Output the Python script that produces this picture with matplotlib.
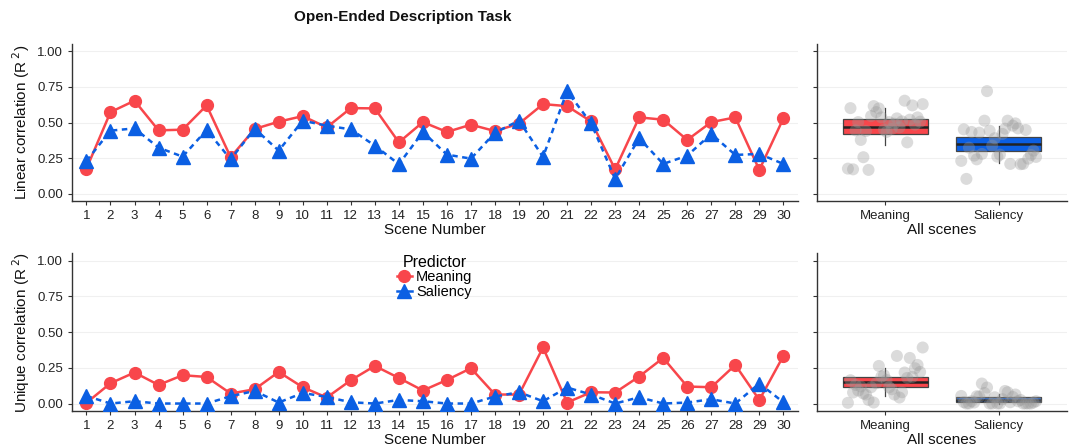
import numpy as np
import matplotlib.pyplot as plt

plt.rcParams['font.family'] = ['Liberation Sans', 'DejaVu Sans']

scenes = list(range(1, 31))
categories = ['Meaning', 'Saliency']

# linear correlation (R^2) per scene
linear_meaning = [0.177, 0.573, 0.653, 0.445, 0.450, 0.620, 0.257, 0.455, 0.506, 0.545,
                  0.466, 0.601, 0.599, 0.361, 0.503, 0.434, 0.485, 0.440, 0.492, 0.629,
                  0.615, 0.508, 0.172, 0.536, 0.520, 0.378, 0.503, 0.536, 0.168, 0.529]
linear_saliency = [0.231, 0.443, 0.459, 0.324, 0.261, 0.448, 0.242, 0.457, 0.303, 0.513,
                   0.478, 0.452, 0.338, 0.208, 0.434, 0.275, 0.247, 0.429, 0.513, 0.259,
                   0.720, 0.494, 0.105, 0.390, 0.210, 0.268, 0.420, 0.273, 0.280, 0.210]

# unique correlation (semi-partial R^2) per scene
unique_meaning = [0.005, 0.142, 0.217, 0.130, 0.198, 0.186, 0.070, 0.100, 0.221, 0.114,
                  0.042, 0.163, 0.263, 0.179, 0.091, 0.165, 0.247, 0.063, 0.063, 0.392,
                  0.007, 0.079, 0.077, 0.189, 0.319, 0.119, 0.114, 0.270, 0.025, 0.333]
unique_saliency = [0.053, 0.000, 0.016, 0.000, 0.000, 0.000, 0.051, 0.088, 0.007, 0.074,
                   0.046, 0.009, 0.000, 0.025, 0.016, 0.000, 0.000, 0.049, 0.079, 0.016,
                   0.112, 0.063, 0.000, 0.044, 0.000, 0.007, 0.030, 0.000, 0.140, 0.009]

linear_box_meaning = (0.34, 0.42, 0.47, 0.522, 0.603)
linear_box_saliency = (0.219, 0.30, 0.35, 0.396, 0.478)
unique_box_meaning = (0.056, 0.116, 0.154, 0.189, 0.252)
unique_box_saliency = (0.0, 0.014, 0.028, 0.044, 0.065)

yticks = [0.0, 0.25, 0.5, 0.75, 1.0]
ytick_labels = ['0.00', '0.25', '0.50', '0.75', '1.00']

RED = '#F8464B'
BLUE = '#0B5FE3'
AXC = '#333333'


def style_axis(ax, show_ylabels=True):
    for s in ['top', 'right']:
        ax.spines[s].set_visible(False)
    for s in ['left', 'bottom']:
        ax.spines[s].set_color(AXC)
        ax.spines[s].set_linewidth(1.0)
    ax.set_ylim(-0.05, 1.05)
    ax.set_yticks(yticks)
    ax.set_yticklabels(ytick_labels if show_ylabels else [])
    ax.yaxis.grid(True, color='#F0F0F0', lw=0.8)
    ax.set_axisbelow(True)
    ax.tick_params(axis='both', colors=AXC, labelcolor='#222222', labelsize=9.5,
                   length=3, width=0.8)


def box_stats(s, label):
    lo, q1, med, q3, hi = s
    return dict(whislo=lo, q1=q1, med=med, q3=q3, whishi=hi, fliers=[], label=label)


fig = plt.figure(figsize=(10.72, 4.48), dpi=100)
ax_tl = fig.add_axes([0.0672, 0.5513, 0.677, 0.3504])
ax_bl = fig.add_axes([0.0672, 0.0833, 0.677, 0.3510])
ax_tr = fig.add_axes([0.7624, 0.5513, 0.2326, 0.3504])
ax_br = fig.add_axes([0.7624, 0.0833, 0.2326, 0.3510])

panels = [(ax_tl, ax_tr, linear_meaning, linear_saliency,
           [linear_box_meaning, linear_box_saliency], 'Linear correlation (R$^{\\ 2}$)'),
          (ax_bl, ax_br, unique_meaning, unique_saliency,
           [unique_box_meaning, unique_box_saliency], 'Unique correlation (R$^{\\ 2}$)')]

for ax_l, ax_r, meaning, saliency, boxes, ylab in panels:
    # per-scene lines
    ax_l.plot(scenes, meaning, color=RED, lw=1.8, marker='o', ms=8.5,
              mec=RED, label='Meaning', zorder=3)
    ax_l.plot(scenes, saliency, color=BLUE, lw=1.8, ls=(0, (2.2, 1.8)), marker='^',
              ms=9.5, mec=BLUE, label='Saliency', zorder=3)
    style_axis(ax_l)
    ax_l.set_xlim(0.4, 30.6)
    ax_l.set_xticks(scenes)
    ax_l.set_xlabel('Scene Number', fontsize=11, labelpad=1, color='#111111')
    ax_l.set_ylabel(ylab, fontsize=11, labelpad=4, color='#111111')

    # summary boxplots over all scenes
    stats = [box_stats(b, c) for b, c in zip(boxes, categories)]
    bp = ax_r.bxp(stats, positions=[1, 2], widths=0.75, patch_artist=True,
                  showfliers=False, showcaps=False,
                  medianprops=dict(color='#222222', lw=1.8),
                  whiskerprops=dict(color='#444444', lw=0.9),
                  boxprops=dict(edgecolor='#444444', lw=0.9))
    for patch, c in zip(bp['boxes'], [RED, BLUE]):
        patch.set_facecolor(c)
    for k, vals in enumerate([meaning, saliency]):
        n = len(vals)
        offs = np.array([((i * 11) % n) / (n - 1) - 0.5 for i in range(n)]) * 0.66
        ax_r.scatter(np.full(n, k + 1) + offs, vals, s=75, color='#9A9A9A',
                     alpha=0.35, edgecolors='none', zorder=4)
    style_axis(ax_r, show_ylabels=False)
    ax_r.set_xlim(0.4, 2.6)
    ax_r.set_xticks([1, 2])
    ax_r.set_xticklabels(categories)
    ax_r.set_xlabel('All scenes', fontsize=11, labelpad=1, color='#111111')

fig.text(0.376, 0.962, 'Open-Ended Description Task', ha='center', va='center',
         fontsize=11, fontweight='bold', color='#111111')

leg = ax_bl.legend(loc='upper left', bbox_to_anchor=(0.44, 1.03), frameon=False,
                   title='Predictor', fontsize=10.5, title_fontsize=11.5,
                   handlelength=1.0, handletextpad=0.3, labelspacing=0.05,
                   borderaxespad=0)
for h in leg.legend_handles:
    h.set_linestyle('-')

fig.savefig('out.png', dpi=100)
